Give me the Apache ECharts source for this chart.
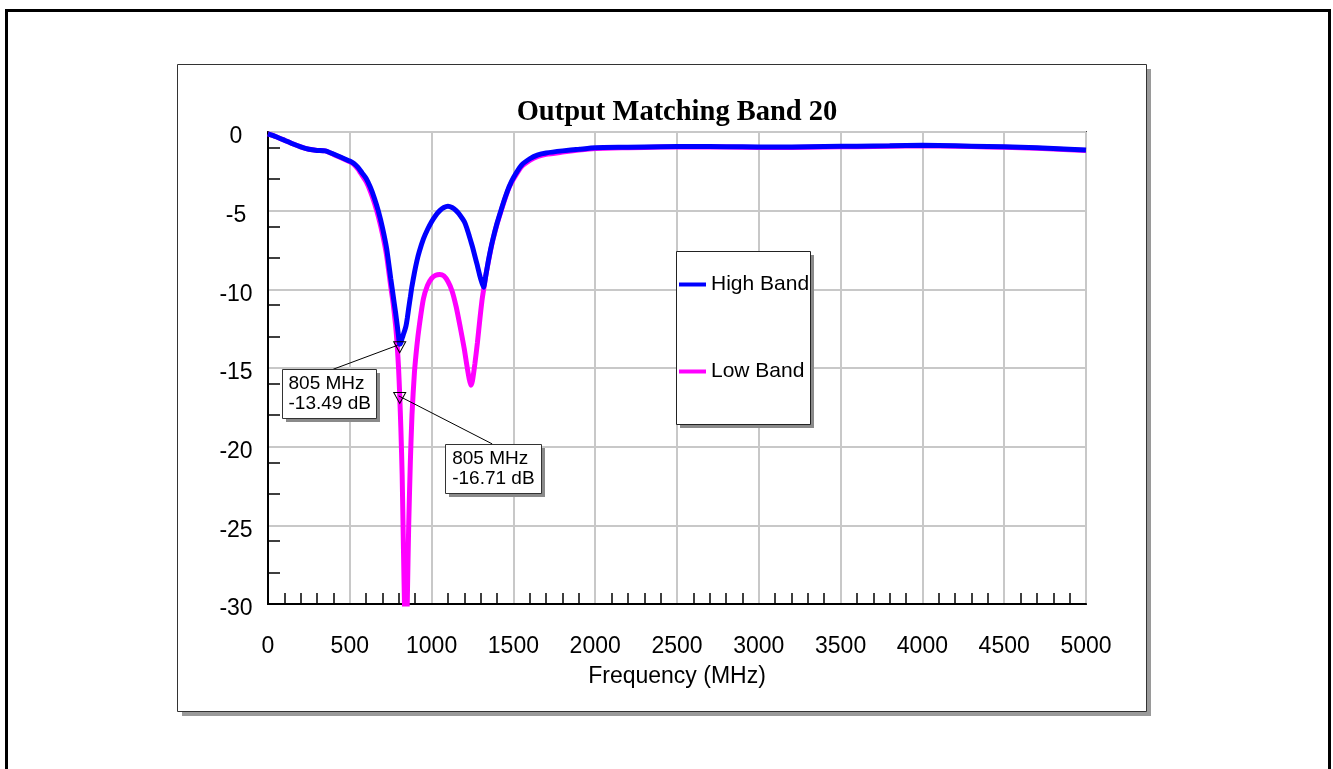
<!DOCTYPE html>
<html>
<head>
<meta charset="utf-8">
<title>Output Matching Band 20</title>
<script src="https://cdn.jsdelivr.net/npm/echarts@6.0.0/dist/echarts.min.js"></script>
<style>
  html, body { margin: 0; padding: 0; background: #ffffff; }
  #chart { width: 1333px; height: 769px; }
</style>
</head>
<body>
<div id="chart"></div>
<script>
// Frequency points (MHz), shared by both traces
const freq = [
  0, 50, 100, 150, 200, 250, 300, 350, 400, 450,
  500, 525, 550, 575, 600, 625, 650, 675, 700, 725,
  750, 765, 780, 790, 798, 805, 812, 820, 828, 836,
  844, 852, 860, 870, 880, 895, 910, 925, 950, 975,
  1000, 1025, 1050, 1075, 1100, 1125, 1150, 1175, 1200, 1215,
  1230, 1240, 1250, 1265, 1280, 1295, 1308, 1318, 1330, 1345,
  1360, 1375, 1400, 1425, 1450, 1475, 1500, 1550, 1600, 1650,
  1700, 1800, 1900, 2000, 2200, 2400, 2600, 2800, 3000, 3200,
  3400, 3600, 3800, 4000, 4200, 4400, 4600, 4800, 5000
];

// Return loss (dB), high band trace
const highBand = [
  -0.12, -0.3, -0.52, -0.75, -0.95, -1.1, -1.17, -1.2, -1.4, -1.62,
  -1.85, -2.0, -2.25, -2.6, -2.95, -3.5, -4.2, -5.05, -6.1, -7.4,
  -9.3, -10.4, -11.5, -12.3, -13.0, -13.49, -13.4, -13.1, -12.85, -12.6,
  -12.3, -11.8, -11.2, -10.5, -9.8, -8.95, -8.2, -7.6, -6.8, -6.2,
  -5.7, -5.3, -5.0, -4.8, -4.72, -4.8, -5.0, -5.3, -5.7, -6.1,
  -6.6, -6.95, -7.3, -7.9, -8.5, -9.15, -9.6, -9.87, -9.2, -8.3,
  -7.5, -6.8, -5.8, -4.95, -4.15, -3.45, -2.9, -2.1, -1.7, -1.45,
  -1.33, -1.2, -1.1, -1.0, -0.97, -0.93, -0.92, -0.93, -0.95, -0.95,
  -0.92, -0.9, -0.88, -0.85, -0.88, -0.92, -0.97, -1.05, -1.15
];

// Return loss (dB), low band trace
const lowBand = [
  -0.12, -0.3, -0.52, -0.75, -0.95, -1.1, -1.17, -1.2, -1.42, -1.65,
  -1.9, -2.05, -2.35, -2.75, -3.15, -3.75, -4.5, -5.4, -6.5, -7.85,
  -9.8, -10.9, -12.3, -13.6, -15.0, -16.71, -18.8, -21.8, -26.5, -31.0,
  -34.0, -29.5, -25.0, -21.0, -18.0, -15.3, -13.6, -12.3, -10.6, -9.75,
  -9.3, -9.1, -9.05, -9.15, -9.5, -10.1, -11.1, -12.4, -13.8, -14.8,
  -15.7, -16.1, -15.8, -14.7, -13.4, -11.9, -10.7, -10.0, -9.2, -8.35,
  -7.55, -6.85, -5.85, -5.0, -4.2, -3.5, -3.0, -2.2, -1.8, -1.55,
  -1.42, -1.28, -1.15, -1.05, -1.0, -0.96, -0.95, -0.96, -0.98, -0.98,
  -0.95, -0.93, -0.9, -0.88, -0.9, -0.95, -1.0, -1.08, -1.18
];

// Marker readouts
const markerFreq = [805, 805];
const markerTrace = ['High Band', 'Low Band'];

// Axis tick positions
const xMajorStep = 500;
const yMajorStep = 5;
const xMinorTicks = [];
for (let f = 100; f < 5000; f += 100) { if (f % xMajorStep !== 0) xMinorTicks.push(f); }
const yMinorTicks = [-1, -3, -6, -8, -11, -13, -16, -18, -21, -23, -26, -28];

const traces = { 'High Band': highBand, 'Low Band': lowBand };
const markerData = markerFreq.map((f, i) => [f, traces[markerTrace[i]][freq.indexOf(f)]]);

// Callout boxes, placed in pixels relative to their marker
const calloutLayout = [
  { box: [-117.5, 25, 94, 49], textPad: 6, lead: [-2, 1], leadEnd: [-66.5, 25] },
  { box: [45.5, 49, 96, 49], textPad: 6.7, lead: [-1, 1], leadEnd: [92.5, 49] }
];

const pairs = arr => freq.map((f, i) => [f, arr[i]]);

const SANS = '"Liberation Sans", Arial, sans-serif';
const chart = echarts.init(document.getElementById('chart'), null, { renderer: 'canvas' });

chart.setOption({
  animation: false,
  backgroundColor: '#ffffff',
  title: {
    text: 'Output Matching Band 20',
    left: 672, top: 93, textAlign: 'center',
    textStyle: { fontFamily: '"Liberation Serif", "Times New Roman", serif', fontWeight: 'bold', fontSize: 28.5, color: '#000' }
  },
  legend: {
    data: ['High Band', 'Low Band'],
    orient: 'vertical',
    left: 676, top: 251,
    padding: [23, 1, 44, 3],
    itemGap: 66,
    itemWidth: 27, itemHeight: 4,
    icon: 'rect',
    z: 10,
    selectedMode: false,
    textStyle: { fontFamily: SANS, fontSize: 21, lineHeight: 20, color: '#000' }
  },
  grid: {
    left: 268, right: 247, top: 132, bottom: 165,
    show: true, borderColor: '#444444', borderWidth: 2, backgroundColor: 'transparent'
  },
  xAxis: [
    {
      type: 'value', position: 'bottom', min: 0, max: 5000, interval: xMajorStep,
      name: 'Frequency (MHz)', nameLocation: 'middle', nameGap: 73,
      nameTextStyle: { fontFamily: SANS, fontSize: 23, color: '#000', verticalAlign: 'middle' },
      axisLine: { show: true, onZero: false, lineStyle: { color: '#000', width: 2 } },
      axisTick: { show: false },
      axisLabel: { fontFamily: SANS, fontSize: 23, color: '#000', margin: 43, verticalAlign: 'middle', formatter: v => String(v) },
      splitLine: { show: true, lineStyle: { color: '#c8c8c8', width: 2 } }
    },
    {
      type: 'value', position: 'bottom', min: 0, max: 5000,
      axisLine: { show: false, onZero: false },
      axisTick: { show: true, inside: true, length: 11, customValues: xMinorTicks, lineStyle: { color: '#000', width: 1.5 } },
      axisLabel: { show: false },
      splitLine: { show: false }
    }
  ],
  yAxis: [
    {
      type: 'value', position: 'left', min: -30, max: 0, interval: yMajorStep,
      axisLine: { show: true, onZero: false, lineStyle: { color: '#000', width: 2 } },
      axisTick: { show: false },
      axisLabel: { fontFamily: SANS, fontSize: 23, color: '#000', margin: 32, align: 'center', verticalAlign: 'top', lineHeight: 10 },
      splitLine: { show: true, lineStyle: { color: '#c8c8c8', width: 2 } }
    },
    {
      type: 'value', position: 'left', min: -30, max: 0,
      axisLine: { show: false, onZero: false },
      axisTick: { show: true, inside: true, length: 12, customValues: yMinorTicks, lineStyle: { color: '#000', width: 1.5 } },
      axisLabel: { show: false },
      splitLine: { show: false }
    }
  ],
  series: [
    {
      name: 'Low Band', type: 'line', data: pairs(lowBand),
      showSymbol: false, symbol: 'none', smooth: 0.2, clip: true,
      lineStyle: { color: '#ff00ff', width: 5 }, itemStyle: { color: '#ff00ff' },
      emphasis: { disabled: true }, z: 3
    },
    {
      name: 'High Band', type: 'line', data: pairs(highBand),
      showSymbol: false, symbol: 'none', smooth: 0.2, clip: true,
      lineStyle: { color: '#0000ff', width: 5 }, itemStyle: { color: '#0000ff' },
      emphasis: { disabled: true }, z: 4
    },
    {
      name: 'markers', type: 'scatter', data: markerData, z: 6, silent: true,
      symbol: 'triangle', symbolRotate: 180, symbolSize: [12, 11], symbolOffset: [0, 3],
      itemStyle: { color: 'rgba(0,0,0,0)', borderColor: '#000', borderWidth: 1, opacity: 1 },
      emphasis: { disabled: true }
    }
  ]
});

// Page frame, chart panel, legend box and marker callouts
const graphics = [
  {
    type: 'rect', z: -20, silent: true,
    shape: { x: 6.5, y: 10.5, width: 1323, height: 820 },
    style: { fill: '#ffffff', stroke: '#000000', lineWidth: 3 }
  },
  {
    type: 'rect', z: -15, silent: true,
    shape: { x: 182, y: 69, width: 969, height: 647 },
    style: { fill: '#9a9a9a' }
  },
  {
    type: 'rect', z: -10, silent: true,
    shape: { x: 177.5, y: 64.5, width: 969, height: 647 },
    style: { fill: '#ffffff', stroke: '#333333', lineWidth: 1 }
  },
  {
    type: 'rect', z: 5, silent: true,
    shape: { x: 680, y: 255, width: 134, height: 173 },
    style: { fill: '#8a8a8a' }
  },
  {
    type: 'rect', z: 5, silent: true,
    shape: { x: 676.5, y: 251.5, width: 134, height: 173 },
    style: { fill: '#ffffff', stroke: '#222222', lineWidth: 1 }
  }
];

markerData.forEach((pt, i) => {
  const p = chart.convertToPixel({ xAxisIndex: 0, yAxisIndex: 0 }, pt);
  const c = calloutLayout[i];
  const bx = Math.round(p[0] + c.box[0]) + 0.5;
  const by = Math.round(p[1] + c.box[1]) + 0.5;
  graphics.push({
    type: 'line', z: 20, silent: true,
    shape: { x1: p[0] + c.lead[0], y1: p[1] + c.lead[1], x2: p[0] + c.leadEnd[0], y2: p[1] + c.leadEnd[1] },
    style: { stroke: '#000', lineWidth: 1 }
  });
  graphics.push({
    type: 'rect', z: 20, silent: true,
    shape: { x: bx + 3.5, y: by + 3.5, width: c.box[2], height: c.box[3] },
    style: { fill: '#8a8a8a' }
  });
  graphics.push({
    type: 'rect', z: 21, silent: true,
    shape: { x: bx, y: by, width: c.box[2], height: c.box[3] },
    style: { fill: '#ffffff', stroke: '#333333', lineWidth: 1 }
  });
  graphics.push({
    type: 'text', z: 22, silent: true,
    style: {
      x: bx + c.textPad, y: by + 4.5,
      text: pt[0] + ' MHz\n' + pt[1].toFixed(2) + ' dB',
      font: '19px "Liberation Sans", Arial, sans-serif',
      lineHeight: 20, fill: '#000', verticalAlign: 'top', align: 'left'
    }
  });
});

chart.setOption({ graphic: graphics });
</script>
</body>
</html>
